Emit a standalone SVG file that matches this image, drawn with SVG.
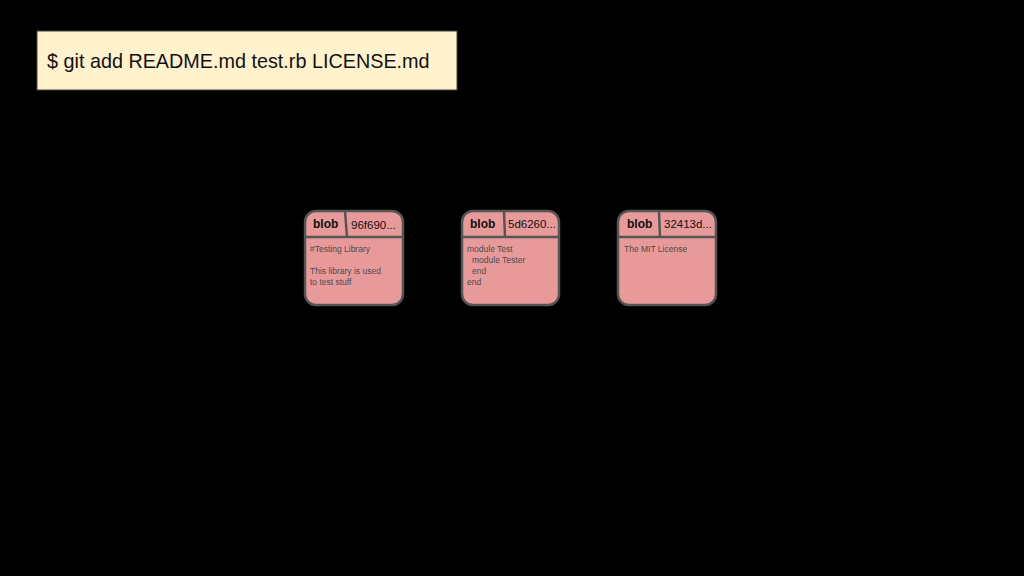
<svg xmlns="http://www.w3.org/2000/svg" width="1024" height="576" viewBox="0 0 1024 576">
<style>
.blob{fill:#e89a9a;stroke:#555;stroke-width:2.5}
.div{stroke:#555;stroke-width:2.5;fill:none}
.lbl{font-family:"Liberation Sans",Arial,sans-serif;font-size:12px;font-weight:bold;fill:#111}
.hash{font-family:"Liberation Sans",Arial,sans-serif;font-size:11.5px;fill:#111}
.body{font-family:"Liberation Sans",Arial,sans-serif;font-size:8.5px;fill:#4a4a4a}
</style>
<rect x="0" y="0" width="1024" height="576" fill="#000"/>
<g id="command">
<rect x="37" y="31" width="420" height="59" fill="#fff2cc" stroke="#444" stroke-width="1"/>
<text x="47" y="68" font-family="'Liberation Sans',Arial,sans-serif" font-size="19.8" fill="#111">$ git add README.md test.rb LICENSE.md</text>
</g>
<g id="blob1">
<rect class="blob" x="305" y="211" width="98" height="94" rx="11"/>
<line class="div" x1="305" y1="237" x2="403" y2="237"/>
<line class="div" x1="345" y1="211" x2="347" y2="237"/>
<text class="lbl" x="313" y="228">blob</text>
<text class="hash" x="351" y="229">96f690...</text>
<text class="body" x="310" y="252">#Testing Library</text>
<text class="body" x="310" y="274">This library is used</text>
<text class="body" x="310" y="285">to test stuff</text>
</g>
<g id="blob2">
<rect class="blob" x="462" y="211" width="97" height="94" rx="11"/>
<line class="div" x1="462" y1="237" x2="559" y2="237"/>
<line class="div" x1="504" y1="211" x2="505" y2="237"/>
<text class="lbl" x="470" y="228">blob</text>
<text class="hash" x="508" y="228">5d6260...</text>
<text class="body" x="467" y="252">module Test</text>
<text class="body" x="472" y="263">module Tester</text>
<text class="body" x="472" y="274">end</text>
<text class="body" x="467" y="285">end</text>
</g>
<g id="blob3">
<rect class="blob" x="618" y="211" width="98" height="94" rx="11"/>
<line class="div" x1="618" y1="237" x2="716" y2="237"/>
<line class="div" x1="659" y1="211" x2="660" y2="237"/>
<text class="lbl" x="627" y="228">blob</text>
<text class="hash" x="664" y="228">32413d...</text>
<text class="body" x="624" y="252">The MIT License</text>
</g>
<g id="connectors"></g>
</svg>
